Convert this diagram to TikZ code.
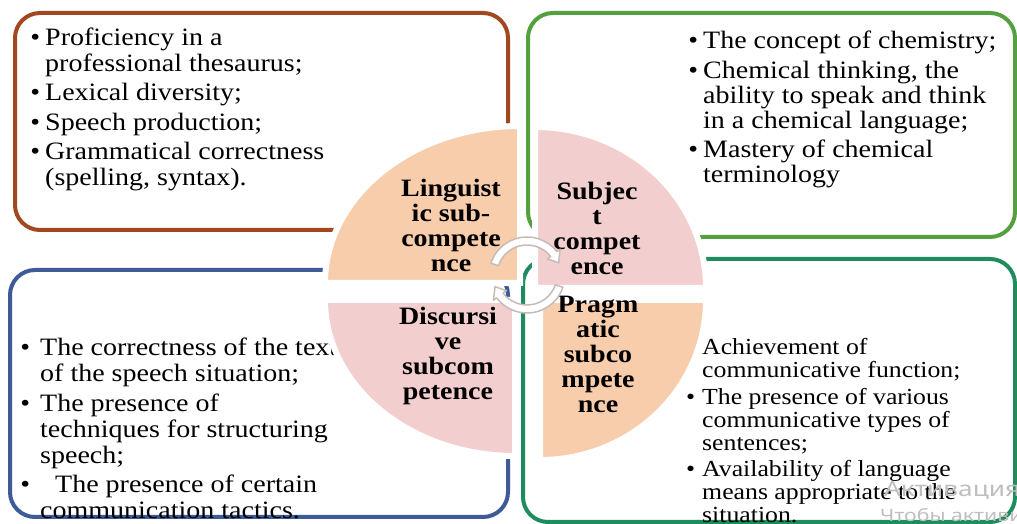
\documentclass[tikz,border=0pt]{standalone}
\usepackage{fontspec}
\setmainfont{Liberation Serif}[FakeStretch=1.12]
\newfontfamily\wmfont{Noto Sans}[FakeStretch=1.25]
\usetikzlibrary{calc}

\definecolor{lingbrown}{RGB}{161,72,32}
\definecolor{subjgreen}{RGB}{84,160,62}
\definecolor{discblue}{RGB}{62,90,152}
\definecolor{pragteal}{RGB}{30,140,92}
\definecolor{peach}{RGB}{248,205,172}
\definecolor{rose}{RGB}{243,206,206}
\definecolor{arrgray}{RGB}{200,186,180}
\definecolor{wmgray}{RGB}{190,190,190}

\tikzset{
  frame/.style={rounded corners=25pt, line width=4pt},
  quad/.style={draw=white, line width=6pt},
  items/.style={anchor=base west, align=left, inner sep=0pt,
    font=\fontsize{25}{26}\selectfont},
  qlbl/.style={anchor=base, align=center, inner sep=0pt,
    font=\bfseries\fontsize{25}{25}\selectfont},
  cyc/.style={fill=white, draw=arrgray, line width=1.5pt, line join=round}
}
\newcommand{\bul}[1]{\llap{\textbullet\hspace{#1}}}

\begin{document}
\begin{tikzpicture}[x=1pt, y=1pt]
  \useasboundingbox (0,0) rectangle (1017,524);

  % frames
  \draw[frame, lingbrown] (15,294) rectangle (508,511);
  \draw[frame, subjgreen] (528,287) rectangle (1015,511);
  \draw[frame, discblue] (10,7) rectangle (508,254);
  \draw[frame, pragteal] (523,2) rectangle (1015,265);

  % frame texts (anchored at the last line)
  \node[items] (lingtxt) at (45,338) {\bul{5pt}Proficiency in a\\professional thesaurus;\\[3.5pt]
    \bul{5pt}Lexical diversity;\\[3.5pt]
    \bul{5pt}Speech production;\\[3.5pt]
    \bul{5pt}Grammatical correctness\\(spelling, syntax).};
  \node[items, font=\fontsize{25}{25}\selectfont] (subjtxt) at (703,341) {\bul{5pt}The concept of chemistry;\\[4.5pt]
    \bul{5pt}Chemical thinking, the\\ability to speak and think\\in a chemical language;\\[4.5pt]
    \bul{5pt}Mastery of chemical\\terminology};
  \node[items] (disctxt) at (40,5) {\bul{10pt}The correctness of the text\\of the speech situation;\\[3.5pt]
    \bul{10pt}The presence of\\techniques for structuring\\speech;\\[3.5pt]
    \bul{10pt}\hspace{15pt}The presence of certain\\communication tactics.};
  \node[items, font=\fontsize{23}{23}\selectfont] (pragtxt) at (702,1) {Achievement of\\communicative function;\\[3.5pt]
    \bul{7pt}The presence of various\\communicative types of\\sentences;\\[3.5pt]
    \bul{7pt}Availability of language\\means appropriate to the\\situation.};

  % quadrants
  \filldraw[quad, fill=peach] (520,241) -- ++(-195,0) arc[start angle=180, end angle=90, x radius=195, y radius=157] -- cycle;
  \filldraw[quad, fill=rose] (535,236) -- ++(171,0) arc[start angle=0, end angle=90, x radius=171, y radius=161] -- cycle;
  \filldraw[quad, fill=rose] (515,224) -- ++(-190,0) arc[start angle=180, end angle=270, x radius=190, y radius=156] -- cycle;
  \filldraw[quad, fill=peach] (540,224) -- ++(166,0) arc[start angle=0, end angle=-90, x radius=166, y radius=160] -- cycle;

  \node[qlbl] (ling) at (451,252) {Linguist\\ic sub-\\compete\\nce};
  \node[qlbl] (subj) at (597,249) {Subjec\\t\\compet\\ence};
  \node[qlbl] (disc) at (448,124) {Discursi\\ve\\subcom\\petence};
  \node[qlbl] (prag) at (598,111) {Pragm\\atic\\subco\\mpete\\nce};

  % cycle arrows
  \begin{scope}[shift={(527,249)}]
    \draw[cyc] (162:38) arc[start angle=162, end angle=38, radius=38] -- (38:42) -- (21:34)
      -- (38:26) -- (38:30) arc[start angle=38, end angle=162, radius=30] -- cycle;
    \draw[cyc] (341:38) arc[start angle=341, end angle=217, radius=38] -- (217:42) -- (200:34)
      -- (217:26) -- (217:30) arc[start angle=217, end angle=341, radius=30] -- cycle;
  \end{scope}

  % watermark
  \node[anchor=base west, inner sep=0pt, text=wmgray, font=\wmfont\fontsize{21}{21}\selectfont] (wm1) at (884,27) {Активация Windows};
  \node[anchor=base west, inner sep=0pt, text=wmgray, font=\wmfont\fontsize{17}{17}\selectfont] (wm2) at (880,2) {Чтобы активировать Windows, перейдите в раздел};
\end{tikzpicture}
\end{document}
